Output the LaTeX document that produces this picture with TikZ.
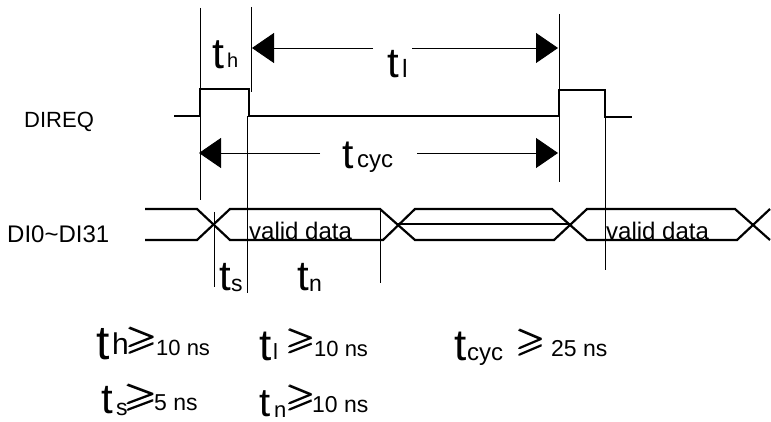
\documentclass[tikz,border=0pt]{standalone}
\usepackage{fontspec}
\usepackage{amssymb}
\setmainfont{Liberation Sans}
\usetikzlibrary{arrows.meta}
\newcommand{\myfs}[1]{\fontsize{#1}{#1}\selectfont}
\newcommand{\mygebox}[2]{\resizebox*{#1}{#2}{$\geqslant$}}
\newcommand{\myge}[2]{\rlap{\mygebox{#1}{#2}}\hspace{0.8pt}\rlap{\raisebox{0.4pt}{\mygebox{#1}{#2}}}\hspace{0.4pt}\mygebox{#1}{#2}}
\begin{document}
\begin{tikzpicture}[x=1pt,y=-1pt,
  sig/.style={line width=2.4pt, line join=miter},
  bus/.style={line width=2.2pt, line join=miter},
  thinln/.style={line width=0.9pt},
  dimarrow/.style={line width=0.9pt, -{Triangle[length=22pt,width=30pt]}},
  lbl/.style={inner sep=0pt, anchor=base west},
  gesym/.style={inner sep=0pt, anchor=north west}]
\useasboundingbox (0,0) rectangle (771,422);

% DIREQ signal
\coordinate (d0) at (174,116);
\coordinate (d1) at (200,116);
\coordinate (d2) at (200,89);
\coordinate (d3) at (249,89);
\coordinate (d4) at (249,116);
\coordinate (d5) at (559,116);
\coordinate (d6) at (559,90);
\coordinate (d7) at (605,90);
\coordinate (d8) at (605,117);
\coordinate (d9) at (632,117);
\draw[sig] (d0) -- (d1) -- (d2) -- (d3) -- (d4) -- (d5) -- (d6) -- (d7) -- (d8) -- (d9);

% thin vertical reference lines
\coordinate (v1a) at (200,8);   \coordinate (v1b) at (200,200);
\coordinate (v2a) at (251,7);   \coordinate (v2b) at (251,92);
\coordinate (v3a) at (247,116); \coordinate (v3b) at (247,293);
\coordinate (v4a) at (559,14);  \coordinate (v4b) at (559,182);
\coordinate (v5a) at (605,116); \coordinate (v5b) at (605,270);
\coordinate (v6a) at (214,212); \coordinate (v6b) at (214,287);
\coordinate (v7a) at (380,209); \coordinate (v7b) at (380,283);
\foreach \v in {v1,v2,v3,v4,v5,v6,v7} \draw[thinln] (\v a) -- (\v b);

% data bus
\draw[bus] (145,209) -- (197,209) -- (230,240) -- (383,240) -- (415,209) -- (552,209) -- (587,240) -- (737,240) -- (770,209);
\draw[bus] (145,240) -- (197,240) -- (230,209) -- (380,209) -- (415,240) -- (554,240) -- (587,209) -- (735,209) -- (770,240);
\coordinate (m1) at (398,224);
\coordinate (m2) at (570,224);
\draw[bus] (m1) -- (m2);

% dimension arrows
\coordinate (tlL) at (252,48);
\coordinate (tlR) at (558,48);
\coordinate (tcL) at (199,153);
\coordinate (tcR) at (558,153);
\coordinate (tlg1) at (373,48);
\coordinate (tlg2) at (412,48);
\coordinate (tcg1) at (320,153);
\coordinate (tcg2) at (417,153);
\draw[dimarrow] (tlg1) -- (tlL);
\draw[dimarrow] (tlg2) -- (tlR);
\draw[dimarrow] (tcg1) -- (tcL);
\draw[dimarrow] (tcg2) -- (tcR);

% signal labels
\node[lbl] (direq) at (24,128) {\myfs{22}DIREQ};
\node[lbl] (dibus) at (7,243) {\myfs{24}DI0\char"007E DI31};
\node[lbl] (vd1) at (249,240) {\myfs{24}valid data};
\node[lbl] (vd2) at (606,240) {\myfs{24}valid data};

% timing labels in diagram
\node[lbl] (th1) at (212,69) {\myfs{43}t};
\node[lbl] (th2) at (227,68) {\myfs{20}h};
\node[lbl] (tl1) at (387,78) {\myfs{42}t};
\node[lbl] (tl2) at (402,78) {\myfs{25}l};
\node[lbl] (tc1) at (342,169) {\myfs{41}t};
\node[lbl] (tc2) at (357,168) {\myfs{24}cyc};
\node[lbl] (ts1) at (219,290) {\myfs{42}t};
\node[lbl] (ts2) at (231,291) {\myfs{23}s};
\node[lbl] (tn1) at (297,290) {\myfs{42}t};
\node[lbl] (tn2) at (309,291) {\myfs{23}n};

% constraints row 1
\node[lbl] (c1t) at (96,359) {\myfs{48}t};
\node[lbl] (c1s) at (112,354) {\myfs{30}h};
\node[gesym] (c1g) at (125,327) {\myge{31pt}{26pt}};
\node[lbl] (c1v) at (156,355) {\myfs{22}10 ns};

\node[lbl] (c2t) at (259,360) {\myfs{44}t};
\node[lbl] (c2s) at (273,359) {\myfs{22}l};
\node[gesym] (c2g) at (285,329) {\myge{29pt}{24pt}};
\node[lbl] (c2v) at (314,356) {\myfs{22}10 ns};

\node[lbl] (c3t) at (454,360) {\myfs{44}t};
\node[lbl] (c3s) at (467,360) {\myfs{24}cyc};
\node[gesym] (c3g) at (515,329) {\myge{29pt}{26pt}};
\node[lbl] (c3v) at (551,356) {\myfs{23}25 ns};

% constraints row 2
\node[lbl] (c4t) at (101,413) {\myfs{42}t};
\node[lbl] (c4s) at (116,415) {\myfs{23}s};
\node[gesym] (c4g) at (123,384) {\myge{33pt}{26pt}};
\node[lbl] (c4v) at (154,410) {\myfs{23}5 ns};

\node[lbl] (c5t) at (259,416) {\myfs{40}t};
\node[lbl] (c5s) at (274,417) {\myfs{22}n};
\node[gesym] (c5g) at (285,385) {\myge{29pt}{25pt}};
\node[lbl] (c5v) at (312,412) {\myfs{23}10 ns};
\end{tikzpicture}
\end{document}
